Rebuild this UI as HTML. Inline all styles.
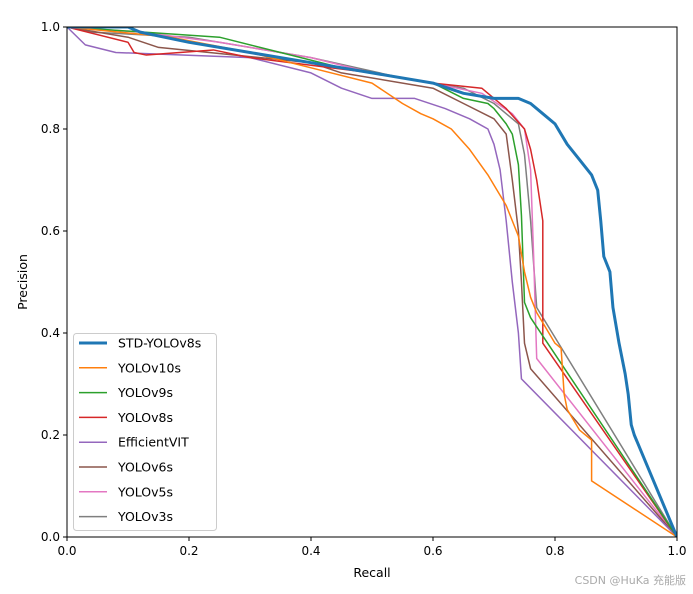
<!DOCTYPE html>
<html><head><meta charset="utf-8"><style>
html,body{margin:0;padding:0;background:#fff;}
svg{display:block;font-family:"DejaVu Sans","Liberation Sans","Noto Sans CJK SC",sans-serif;}
</style></head><body>
<svg id="chart" width="693" height="594" viewBox="0 0 693 594" xmlns="http://www.w3.org/2000/svg">
<g id="plot"></g>
<g id="axes"></g>
<g id="legend"></g>
<text x="686" y="584" font-size="11" fill="#aaa" text-anchor="end">CSDN @HuKa 充能版</text>
</svg>
<script>
const seriesNames = ["STD-YOLOv8s","YOLOv10s","YOLOv9s","YOLOv8s","EfficientVIT","YOLOv6s","YOLOv5s","YOLOv3s"];
const seriesColors = ["#1f77b4","#ff7f0e","#2ca02c","#d62728","#9467bd","#8c564b","#e377c2","#7f7f7f"];
const xTicks = [0,0.2,0.4,0.6,0.8,1.0];
const yTicks = [0,0.2,0.4,0.6,0.8,1.0];
const stdRecall = [0,0.1,0.12,0.2,0.3,0.4,0.5,0.6,0.65,0.7,0.74,0.76,0.78,0.8,0.82,0.84,0.86,0.87,0.875,0.88,0.89,0.895,0.905,0.915,0.92,0.925,0.93,1.0];
const stdPrec = [1,1,0.99,0.97,0.95,0.93,0.91,0.89,0.87,0.86,0.86,0.85,0.83,0.81,0.77,0.74,0.71,0.68,0.62,0.55,0.52,0.45,0.38,0.32,0.28,0.22,0.2,0];
const v10Recall = [0,0.17,0.3,0.4,0.5,0.55,0.58,0.6,0.63,0.66,0.69,0.7,0.72,0.74,0.75,0.76,0.77,0.78,0.8,0.81,0.815,0.82,0.84,0.86,0.86,1];
const v10Prec = [1,0.98,0.95,0.92,0.89,0.85,0.83,0.82,0.8,0.76,0.71,0.69,0.65,0.59,0.52,0.47,0.44,0.42,0.38,0.37,0.28,0.25,0.21,0.19,0.11,0];
const v9Recall = [0,0.25,0.35,0.45,0.55,0.6,0.65,0.69,0.7,0.72,0.73,0.74,0.745,0.75,0.76,1];
const v9Prec = [1,0.98,0.95,0.92,0.9,0.89,0.86,0.85,0.84,0.81,0.79,0.73,0.63,0.46,0.43,0];
const v8Recall = [0,0.1,0.11,0.13,0.24,0.3,0.5,0.6,0.68,0.72,0.75,0.76,0.77,0.78,0.78,1];
const v8Prec = [1,0.97,0.95,0.945,0.955,0.94,0.91,0.89,0.88,0.84,0.8,0.76,0.7,0.62,0.38,0];
const evRecall = [0,0.03,0.08,0.3,0.4,0.45,0.5,0.57,0.62,0.66,0.69,0.7,0.71,0.72,0.73,0.74,0.745,1];
const evPrec = [1,0.965,0.95,0.94,0.91,0.88,0.86,0.86,0.84,0.82,0.8,0.77,0.72,0.62,0.5,0.4,0.31,0];
const v6Recall = [0,0.1,0.15,0.4,0.45,0.6,0.65,0.7,0.72,0.73,0.74,0.745,0.75,0.76,1];
const v6Prec = [1,0.98,0.96,0.93,0.91,0.88,0.85,0.82,0.79,0.7,0.6,0.5,0.38,0.33,0];
const v5Recall = [0,0.12,0.25,0.4,0.5,0.6,0.68,0.73,0.75,0.76,0.765,0.77,1];
const v5Prec = [1,0.99,0.97,0.94,0.91,0.89,0.87,0.83,0.8,0.72,0.55,0.35,0];
const v3Recall = [0,0.04,0.2,0.3,0.4,0.55,0.65,0.7,0.74,0.75,0.76,0.77,1];
const v3Prec = [1,0.99,0.98,0.96,0.94,0.9,0.88,0.85,0.81,0.75,0.62,0.45,0];
const allRecall = [stdRecall,v10Recall,v9Recall,v8Recall,evRecall,v6Recall,v5Recall,v3Recall];
const allPrec = [stdPrec,v10Prec,v9Prec,v8Prec,evPrec,v6Prec,v5Prec,v3Prec];

const X0=67,X1=677,Y0=537,Y1=27;
const sx=v=>X0+v*(X1-X0);
const sy=v=>Y0-v*(Y0-Y1);
const NS="http://www.w3.org/2000/svg";
function mk(tag,attrs,parent){const e=document.createElementNS(NS,tag);for(const k in attrs)e.setAttribute(k,attrs[k]);parent.appendChild(e);return e;}
const plot=document.getElementById('plot'),axes=document.getElementById('axes'),legend=document.getElementById('legend');
mk('defs',{},plot).innerHTML='<clipPath id="clip"><rect x="67" y="27" width="610" height="510"/></clipPath>';
const clipG=mk('g',{'clip-path':'url(#clip)'},plot);
for(let s=allRecall.length-1;s>=0;s--){
  const r=allRecall[s],p=allPrec[s];let pts=[];
  for(let i=0;i<r.length;i++){
    pts.push(sx(r[i])+','+sy(p[i]));
  }
  const pl=mk('polyline',{points:pts.join(' '),fill:'none',stroke:seriesColors[s],'stroke-width':s===0?3:1.5,'stroke-linejoin':'round'},clipG);
  
  
}
const frame=mk('rect',{x:X0,y:Y1,width:X1-X0,height:Y0-Y1,fill:'none',stroke:'#000','stroke-width':1},axes);


xTicks.forEach(t=>{
  mk('line',{x1:sx(t),x2:sx(t),y1:Y0,y2:Y0+4,stroke:'#000'},axes);
  const tx=mk('text',{x:sx(t),y:Y0+18,'font-size':12,'text-anchor':'middle'},axes);tx.textContent=t.toFixed(1);
  
  
});
yTicks.forEach(t=>{
  mk('line',{x1:X0-4,x2:X0,y1:sy(t),y2:sy(t),stroke:'#000'},axes);
  const tx=mk('text',{x:X0-7,y:sy(t)+4,'font-size':12,'text-anchor':'end'},axes);tx.textContent=t.toFixed(1);
  
  
});
const xl=mk('text',{x:372,y:577,'font-size':12.5,'text-anchor':'middle'},axes);xl.textContent='Recall';


const yl=mk('text',{x:0,y:0,'font-size':12.5,'text-anchor':'middle',transform:'translate(27,282) rotate(-90)'},axes);yl.textContent='Precision';


const lb=mk('rect',{x:73.5,y:333.5,width:143,height:197,rx:3,fill:'#fff','fill-opacity':0.8,stroke:'#ccc'},legend);


seriesNames.forEach((n,i)=>{
  const y=343+i*24.8;
  const g=mk('g',{},legend);
  
  
  mk('line',{x1:79,x2:107,y1:y,y2:y,stroke:seriesColors[i],'stroke-width':i===0?3:1.5},g);
  const t=mk('text',{x:118,y:y+4.5,'font-size':12.5},g);t.textContent=n;
});
</script>
</body></html>
